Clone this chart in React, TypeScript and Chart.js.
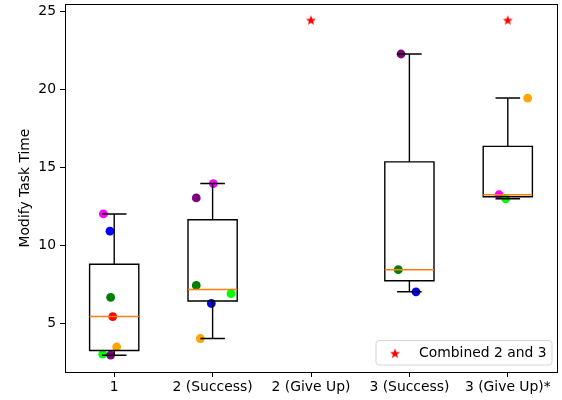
import React, { useEffect, useRef } from 'react';
import { Chart, registerables } from 'chart.js';

Chart.register(...registerables);

const categories = ['1', '2 (Success)', '2 (Give Up)', '3 (Success)', '3 (Give Up)*'];
const categoryPositions = [1, 2, 3, 4, 5];

const group1Values = [12.01, 10.9, 6.65, 5.42, 3.47, 3.01, 2.94];
const group1Colors = ['#ff00ff', '#0000ff', '#008000', '#ff0000', '#ffa500', '#00ff00', '#800080'];
const group1Jitter = [-0.11, -0.043, -0.036, -0.015, 0.025, -0.117, -0.036];

const group2Values = [13.96, 13.04, 7.42, 6.89, 6.26, 4.01];
const group2Colors = ['#ff00ff', '#800080', '#008000', '#00ff00', '#0000ff', '#ffa500'];
const group2Jitter = [0.007, -0.166, -0.166, 0.187, -0.013, -0.125];

const group3Values: number[] = [];
const group3Colors: string[] = [];
const group3Jitter: number[] = [];

const group4Values = [22.28, 8.43, 7.01];
const group4Colors = ['#800080', '#008000', '#0000ff'];
const group4Jitter = [-0.085, -0.113, 0.067];

const group5Values = [19.45, 13.24, 12.98];
const group5Colors = ['#ffa500', '#ff00ff', '#00ff00'];
const group5Jitter = [0.202, -0.089, -0.021];

const combinedPositions = [3, 5];
const combinedValues = [24.43, 24.43];
const combinedLabel = 'Combined 2 and 3';

const yTicks = [5, 10, 15, 20, 25];
const yMin = 1.86;
const yMax = 25.49;
const yTitle = 'Modify Task Time';

const groups = [
  { values: group1Values, colors: group1Colors, jitter: group1Jitter },
  { values: group2Values, colors: group2Colors, jitter: group2Jitter },
  { values: group3Values, colors: group3Colors, jitter: group3Jitter },
  { values: group4Values, colors: group4Colors, jitter: group4Jitter },
  { values: group5Values, colors: group5Colors, jitter: group5Jitter },
];

const FONT = 'DejaVu Sans';
const FS = 13.9;

function percentile(sorted: number[], p: number) {
  const idx = (sorted.length - 1) * p;
  const lo = Math.floor(idx);
  const hi = Math.ceil(idx);
  return sorted[lo] + (sorted[hi] - sorted[lo]) * (idx - lo);
}

function makeStar(size: number, outer: number, inner: number, color: string) {
  const c = document.createElement('canvas');
  c.width = size;
  c.height = size;
  const ctx = c.getContext('2d')!;
  ctx.fillStyle = color;
  ctx.beginPath();
  for (let i = 0; i < 10; i++) {
    const r = i % 2 === 0 ? outer : inner;
    const a = -Math.PI / 2 + (i * Math.PI) / 5;
    const x = size / 2 + r * Math.cos(a);
    const y = size / 2 + r * Math.sin(a);
    if (i === 0) ctx.moveTo(x, y);
    else ctx.lineTo(x, y);
  }
  ctx.closePath();
  ctx.fill();
  return c;
}

export default function App() {
  const ref = useRef<HTMLCanvasElement | null>(null);

  useEffect(() => {
    if (!ref.current) return;
    const star = makeStar(12, 5.2, 2.2, '#ff0000');

    const boxPlugin = {
      id: 'boxPlugin',
      afterDatasetsDraw(chart: any) {
        const { ctx, scales } = chart;
        const xs = scales.x;
        const ys = scales.y;
        ctx.save();
        groups.forEach((g, i) => {
          if (!g.values.length) return;
          const s = [...g.values].sort((a, b) => a - b);
          const q1 = percentile(s, 0.25);
          const med = percentile(s, 0.5);
          const q3 = percentile(s, 0.75);
          const iqr = q3 - q1;
          const lo = Math.min(...s.filter((v) => v >= q1 - 1.5 * iqr));
          const hi = Math.max(...s.filter((v) => v <= q3 + 1.5 * iqr));
          const pos = categoryPositions[i];
          const xl = xs.getPixelForValue(pos - 0.25);
          const xr = xs.getPixelForValue(pos + 0.25);
          const xc = xs.getPixelForValue(pos);
          const cl = xs.getPixelForValue(pos - 0.125);
          const cr = xs.getPixelForValue(pos + 0.125);
          const yq1 = ys.getPixelForValue(q1);
          const yq3 = ys.getPixelForValue(q3);
          const ym = ys.getPixelForValue(med);
          const ylo = ys.getPixelForValue(lo);
          const yhi = ys.getPixelForValue(hi);
          ctx.strokeStyle = '#000';
          ctx.lineWidth = 1.4;
          ctx.beginPath();
          ctx.rect(xl, yq3, xr - xl, yq1 - yq3);
          ctx.moveTo(xc, yq1);
          ctx.lineTo(xc, ylo);
          ctx.moveTo(xc, yq3);
          ctx.lineTo(xc, yhi);
          ctx.moveTo(cl, ylo);
          ctx.lineTo(cr, ylo);
          ctx.moveTo(cl, yhi);
          ctx.lineTo(cr, yhi);
          ctx.stroke();
          ctx.strokeStyle = '#ff7f0e';
          ctx.lineWidth = 1.6;
          ctx.beginPath();
          ctx.moveTo(xl, ym);
          ctx.lineTo(xr, ym);
          ctx.stroke();
        });
        ctx.restore();
      },
      afterDraw(chart: any) {
        const { ctx, chartArea } = chart;
        ctx.save();
        ctx.strokeStyle = '#000';
        ctx.lineWidth = 1;
        ctx.strokeRect(
          Math.round(chartArea.left) + 0.5,
          Math.round(chartArea.top) + 0.5,
          Math.round(chartArea.right - chartArea.left),
          Math.round(chartArea.bottom - chartArea.top)
        );
        // legend
        const w = 176;
        const h = 24.5;
        const lx = chartArea.right - 5 - w;
        const ly = chartArea.bottom - 7 - h;
        ctx.beginPath();
        const r = 3;
        ctx.moveTo(lx + r, ly);
        ctx.lineTo(lx + w - r, ly);
        ctx.quadraticCurveTo(lx + w, ly, lx + w, ly + r);
        ctx.lineTo(lx + w, ly + h - r);
        ctx.quadraticCurveTo(lx + w, ly + h, lx + w - r, ly + h);
        ctx.lineTo(lx + r, ly + h);
        ctx.quadraticCurveTo(lx, ly + h, lx, ly + h - r);
        ctx.lineTo(lx, ly + r);
        ctx.quadraticCurveTo(lx, ly, lx + r, ly);
        ctx.closePath();
        ctx.fillStyle = 'rgba(255,255,255,0.8)';
        ctx.fill();
        ctx.strokeStyle = '#d5d5d5';
        ctx.lineWidth = 1;
        ctx.stroke();
        ctx.drawImage(star, lx + 19 - 6, ly + h / 2 - 6 + 1, 12, 12);
        ctx.fillStyle = '#000';
        ctx.font = `${FS}px "${FONT}"`;
        ctx.textBaseline = 'middle';
        ctx.textAlign = 'left';
        ctx.fillText(combinedLabel, lx + 43, ly + h / 2 + 1);
        ctx.restore();
      },
    };

    const datasets: any[] = groups.map((g, i) => ({
      label: categories[i],
      data: g.values.map((v, j) => ({ x: categoryPositions[i] + g.jitter[j], y: v })),
      pointBackgroundColor: g.colors,
      pointBorderWidth: 0,
      pointRadius: 4.4,
      pointHoverRadius: 4.4,
      showLine: false,
    }));
    datasets.push({
      label: combinedLabel,
      data: combinedPositions.map((p, j) => ({ x: p, y: combinedValues[j] })),
      pointStyle: star,
      pointRadius: 6,
      pointHoverRadius: 6,
      showLine: false,
    });

    const chart = new Chart(ref.current, {
      type: 'scatter',
      data: { datasets },
      plugins: [boxPlugin],
      options: {
        responsive: false,
        animation: false,
        events: [],
        layout: { autoPadding: false, padding: { left: 13, top: 4, right: 5, bottom: 0 } },
        plugins: { legend: { display: false }, tooltip: { enabled: false } },
        scales: {
          x: {
            type: 'linear',
            min: 0.5,
            max: 5.5,
            afterBuildTicks: (s: any) => {
              s.ticks = categoryPositions.map((v) => ({ value: v }));
            },
            afterFit: (s: any) => {
              s.height = 28;
              s.paddingLeft = 0;
              s.paddingRight = 0;
            },
            ticks: {
              callback: (v: any) => categories[categoryPositions.indexOf(Number(v))] ?? '',
              font: { family: FONT, size: FS },
              color: '#000',
              padding: 2,
              maxRotation: 0,
              autoSkip: false,
            },
            grid: { drawOnChartArea: false, drawTicks: true, tickLength: 5, tickColor: '#000', tickWidth: 1 },
            border: { display: false },
          },
          y: {
            type: 'linear',
            min: yMin,
            max: yMax,
            afterBuildTicks: (s: any) => {
              s.ticks = yTicks.map((v) => ({ value: v }));
            },
            afterFit: (s: any) => {
              s.width = 52;
              s.paddingTop = 0;
              s.paddingBottom = 0;
            },
            ticks: {
              font: { family: FONT, size: FS },
              color: '#000',
              padding: 4,
            },
            title: {
              display: true,
              text: yTitle,
              font: { family: FONT, size: FS },
              color: '#000',
              padding: { top: 4, bottom: 4 },
            },
            grid: { drawOnChartArea: false, drawTicks: true, tickLength: 5, tickColor: '#000', tickWidth: 1 },
            border: { display: false },
          },
        },
      },
    } as any);
    return () => chart.destroy();
  }, []);

  return (
    <div style={{ position: 'absolute', left: 0, top: 0, width: 562, height: 400, background: '#fff' }}>
      <canvas ref={ref} width={562} height={400} style={{ display: 'block' }} />
    </div>
  );
}
